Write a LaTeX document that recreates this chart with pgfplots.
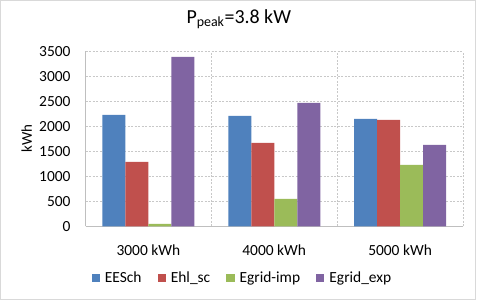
\documentclass[border=0pt]{standalone}
\usepackage{pgfplots}
\pgfplotsset{compat=1.18}
\usepackage{fontspec}
\setmainfont{Carlito}
\definecolor{cA}{HTML}{4F81BD}
\definecolor{cB}{HTML}{C0504D}
\definecolor{cC}{HTML}{9BBB59}
\definecolor{cD}{HTML}{8064A2}
\definecolor{gridc}{HTML}{C8C8C8}
\definecolor{axc}{HTML}{BFBFBF}
\begin{document}
\begin{tikzpicture}
\useasboundingbox (-85.5bp,-74.7bp) rectangle (393.5bp,226.3bp);
\draw[color=gridc!70, line width=0.8bp] (-85bp,-72.7bp) rectangle (390bp,225.8bp);
\begin{axis}[
  at={(0,0)}, anchor=south west,
  scale only axis, width=377.5bp, height=175bp,
  ybar=0pt, bar width=23bp,
  xmin=-0.5, xmax=2.5, ymin=0, ymax=3500,
  xtick={0,1,2}, xticklabels={3000 kWh,4000 kWh,5000 kWh},
  minor xtick={0.5,1.5,2.5},
  ytick={0,500,...,3500},
  major x tick style={draw=none}, minor x tick style={draw=none},
  y tick style={draw=none},
  xminorgrids, ymajorgrids,
  grid style={color=gridc, dash pattern=on 2bp off 1.5bp, line width=0.75bp},
  minor grid style={color=gridc, dash pattern=on 2bp off 1.5bp, line width=0.75bp},
  axis x line*=bottom, axis y line*=left,
  axis line style={-, color=axc, line width=0.9bp},
  /pgf/number format/assume math mode=true,
  /pgf/number format/1000 sep={},
  tick label style={font=\fontsize{15.5}{18}\selectfont, text=black},
  yticklabel style={anchor=east, inner sep=0pt, xshift=-14.8bp},
  xticklabel style={anchor=north, inner sep=0pt, yshift=-14.5bp},
  ylabel={kWh},
  ylabel style={at={(axis description cs:-0.156,0.5)}, anchor=center, rotate=0, font=\fontsize{15}{18}\selectfont},
  title={P\textsubscript{peak}=3.8 kW},
  title style={at={(axis description cs:0.406,1.15)}, anchor=center, font=\fontsize{20}{24}\selectfont},
  legend columns=4,
  legend style={at={(axis description cs:0.413,-0.295)}, anchor=center, draw=none,
    font=\fontsize{15.5}{18}\selectfont,
    nodes={inner xsep=0bp, inner ysep=2bp},
    /tikz/every odd column/.append style={column sep=5bp},
    /tikz/every even column/.append style={column sep=16bp}},
  legend image code/.code={\fill[#1] (0bp,-4.2bp) rectangle (8.3bp,4.2bp);},
]
\addplot[fill=cA, draw=none] coordinates {(0,2230) (1,2210) (2,2150)};
\addplot[fill=cB, draw=none] coordinates {(0,1290) (1,1670) (2,2130)};
\addplot[fill=cC, draw=none] coordinates {(0,50) (1,550) (2,1230)};
\addplot[fill=cD, draw=none] coordinates {(0,3390) (1,2470) (2,1630)};
\legend{EESch,Ehl\_sc,Egrid-imp,Egrid\_exp}
\end{axis}
\end{tikzpicture}
\end{document}
